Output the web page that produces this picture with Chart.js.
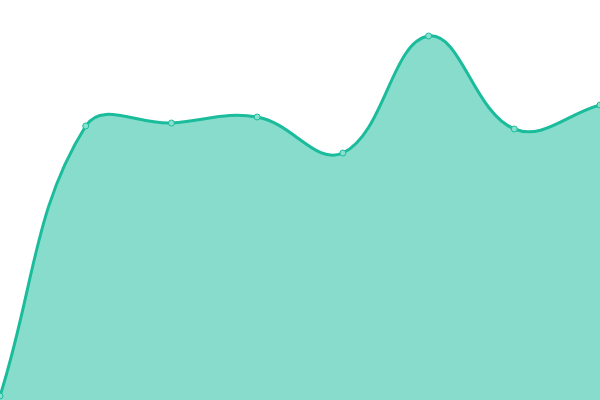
<!DOCTYPE html>
<html>
<head>
<meta charset="utf-8">
<script src="https://cdn.jsdelivr.net/npm/chart.js@4/dist/chart.umd.min.js"></script>
<style>
  html, body { margin: 0; padding: 0; background: #fff; }
  #wrap { width: 600px; height: 400px; }
</style>
</head>
<body>
<div id="wrap"><canvas id="myChart"></canvas></div>
<script>
const labels = ['1', '2', '3', '4', '5', '6', '7', '8'];
const values = [1, 68.5, 69.25, 70.75, 61.75, 91, 67.75, 73.75];

const ctx = document.getElementById('myChart').getContext('2d');
new Chart(ctx, {
    type: 'line',
    data: {
        labels: labels,
        datasets: [{
            data: values,
            borderColor: '#1abc9c',
            backgroundColor: 'rgba(26, 188, 156, 0.52)',
            borderWidth: 3,
            fill: true,
            tension: 0.4,
            pointRadius: 3,
            pointBorderWidth: 1,
            pointBackgroundColor: '#8ae0d0',
            pointBorderColor: '#1abc9c'
        }]
    },
    options: {
        responsive: true,
        maintainAspectRatio: false,
        animation: false,
        layout: { padding: 0, autoPadding: false },
        plugins: {
            legend: { display: false },
            tooltip: { enabled: false }
        },
        scales: {
            x: { display: false, offset: false },
            y: { display: false, min: 0, max: 100 }
        }
    }
});
</script>
</body>
</html>
